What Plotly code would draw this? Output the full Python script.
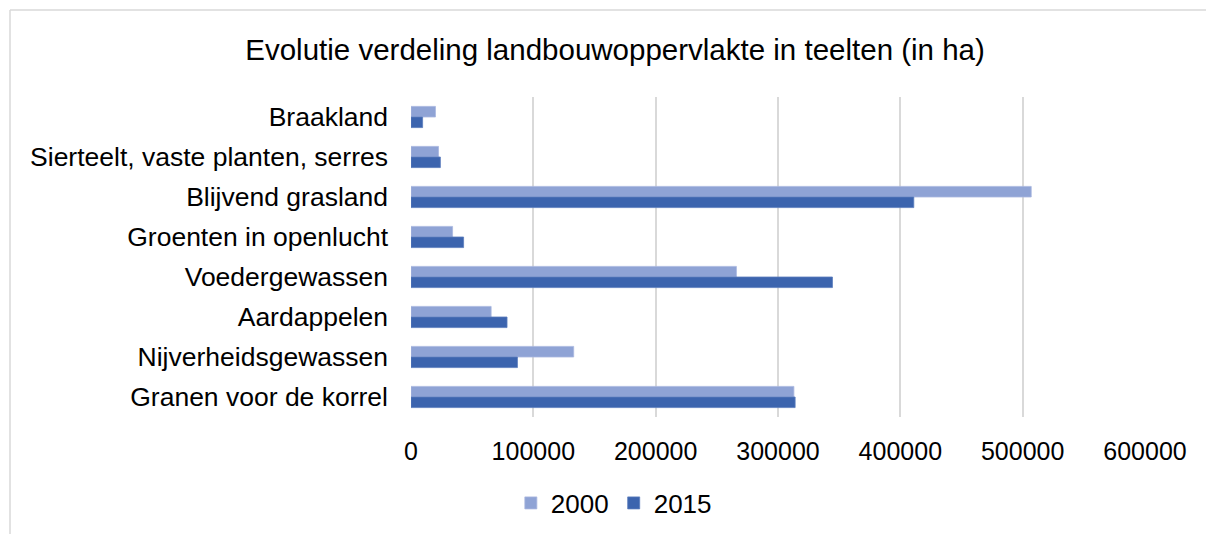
import plotly.graph_objects as go

categories = ["Braakland", "Sierteelt, vaste planten, serres", "Blijvend grasland",
              "Groenten in openlucht", "Voedergewassen", "Aardappelen",
              "Nijverheidsgewassen", "Granen voor de korrel"]
values_2000 = [20000, 22500, 507000, 34000, 266000, 65500, 133000, 313000]
values_2015 = [9500, 24000, 411000, 43000, 344500, 78500, 87000, 314000]
tick_vals = [0, 100000, 200000, 300000, 400000, 500000, 600000]

W, H = 1206, 534
L, R, T, B = 411, 61, 97, 117
pw, ph = W - L - R, H - T - B

fig = go.Figure()
fig.add_trace(go.Bar(name="2000", y=categories, x=values_2000, orientation="h",
                     marker=dict(color="#8fa3d5", line=dict(color="#a9b8e0", width=0.8))))
fig.add_trace(go.Bar(name="2015", y=categories, x=values_2015, orientation="h",
                     marker=dict(color="#3c64ae", line=dict(color="#5a7cbd", width=0.8))))

font = "Liberation Sans, Arial, sans-serif"
fig.update_layout(
    width=W, height=H,
    margin=dict(l=L, r=R, t=T, b=B),
    paper_bgcolor="white", plot_bgcolor="white",
    barmode="group", bargap=0.47, bargroupgap=0,
    font=dict(family=font, size=25, color="#000000"),
    title=dict(text="Evolutie verdeling landbouwoppervlakte in teelten (in ha)",
               xref="container", x=0.51, xanchor="center",
               yref="container", y=1 - 50 / H, yanchor="middle",
               font=dict(size=29.5, color="#000000")),
    xaxis=dict(range=[0, 600000], tickvals=tick_vals, tickformat="d",
               showgrid=True, gridcolor="#d9d9d9", gridwidth=1.5,
               zeroline=False, showline=False, ticks="",
               ticklabelstandoff=17, tickfont=dict(size=25)),
    yaxis=dict(autorange="reversed", showgrid=False, zeroline=False, showline=False,
               ticks="", ticklabelstandoff=22, tickfont=dict(size=26.5)),
    legend=dict(orientation="h", xref="container", x=0.509, xanchor="center",
                yref="container", y=1 - 503 / H, yanchor="middle",
                font=dict(size=26), itemwidth=30, traceorder="normal"),
    shapes=[
        dict(type="line", xref="paper", yref="paper",
             x0=(10 - L) / pw, x1=(10 - L) / pw,
             y0=1 - (H + 5 - T) / ph, y1=1 - (10 - T) / ph,
             line=dict(color="#d9d9d9", width=1.5)),
        dict(type="line", xref="paper", yref="paper",
             x0=(10 - L) / pw, x1=(W + 5 - L) / pw,
             y0=1 - (10 - T) / ph, y1=1 - (10 - T) / ph,
             line=dict(color="#d9d9d9", width=1.5)),
    ],
)

fig.write_html("out.html", config={"displayModeBar": False},
               post_script="document.body.style.margin='0';document.body.style.overflow='hidden';")
